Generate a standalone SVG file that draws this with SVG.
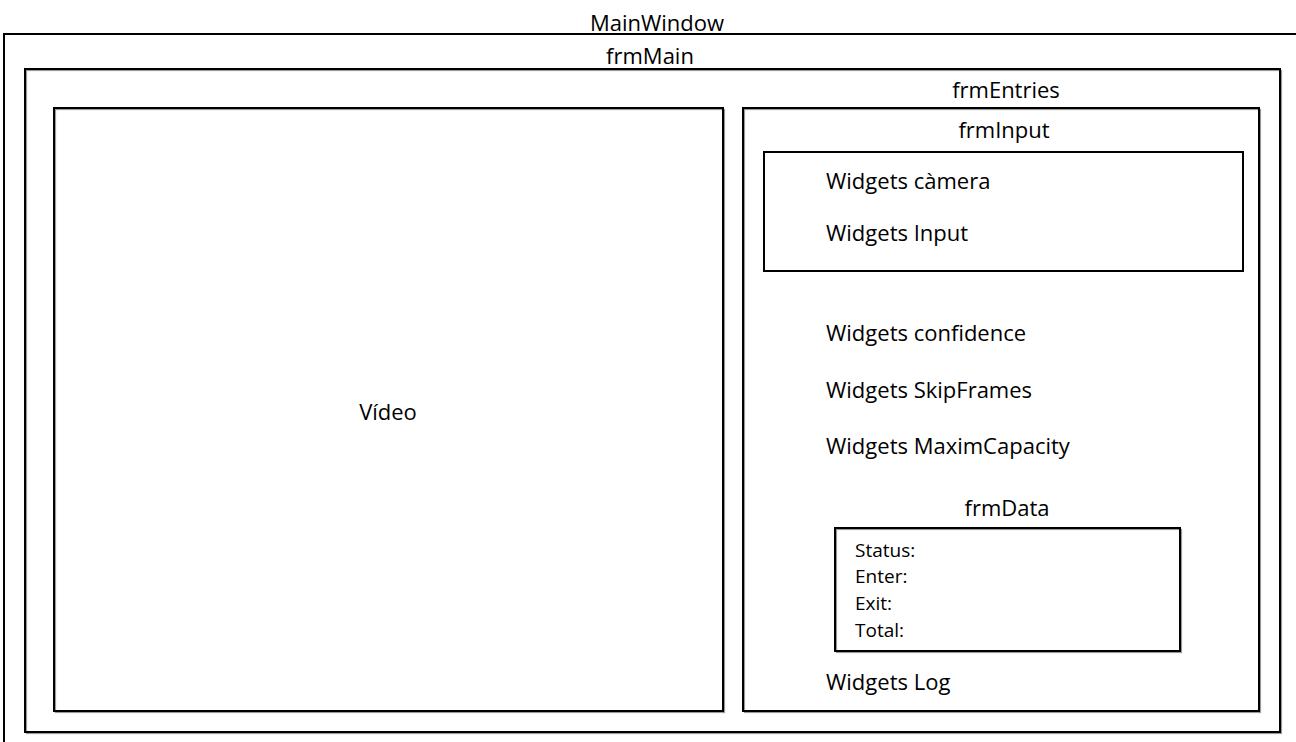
<svg xmlns="http://www.w3.org/2000/svg" width="1296" height="742" viewBox="0 0 1296 742">
<style>
rect.f{fill:none;stroke:#000;stroke-width:2}
rect.sh{fill:none;stroke:#9a9a9a;stroke-width:1.2}
text{font-family:"Open Sans","Liberation Sans",sans-serif;fill:#000}
.t{font-size:22px}
.s{font-size:19px}
</style>
<rect width="1296" height="742" fill="#fff"/>
<g id="mainwindow"><rect class="f" x="4" y="34" width="1300" height="720"/><text class="t" x="657" y="31" text-anchor="middle">MainWindow</text></g>
<g id="frmMain"><rect class="sh" x="26.5" y="70.5" width="1255" height="663"/><rect class="f" x="25" y="69" width="1255" height="663"/><text class="t" x="650" y="64" text-anchor="middle">frmMain</text></g>
<g id="video"><rect class="sh" x="55.5" y="109.5" width="669" height="603"/><rect class="f" x="54" y="108" width="669" height="603"/><text class="t" x="388" y="420" text-anchor="middle">Vídeo</text></g>
<g id="frmEntries"><rect class="sh" x="744.5" y="109.5" width="516" height="603"/><rect class="f" x="743" y="108" width="516" height="603"/><text class="t" x="1006" y="98" text-anchor="middle">frmEntries</text>
<text class="t" x="826" y="341">Widgets confidence</text>
<text class="t" x="826" y="398">Widgets SkipFrames</text>
<text class="t" x="826" y="454">Widgets MaximCapacity</text>
<text class="t" x="826" y="690">Widgets Log</text></g>
<g id="frmInput"><rect class="f" x="764" y="152" width="479" height="119"/><text class="t" x="1004" y="138" text-anchor="middle">frmInput</text>
<text class="t" x="826" y="189">Widgets càmera</text>
<text class="t" x="826" y="241">Widgets Input</text></g>
<g id="frmData"><rect class="sh" x="836.5" y="529.5" width="345" height="123"/><rect class="f" x="835" y="528" width="345" height="123"/><text class="t" x="1007" y="516" text-anchor="middle">frmData</text>
<text class="s" x="855" y="557">Status:</text>
<text class="s" x="855" y="583">Enter:</text>
<text class="s" x="855" y="610">Exit:</text>
<text class="s" x="855" y="637">Total:</text></g>
<g id="connectors"/>
</svg>
